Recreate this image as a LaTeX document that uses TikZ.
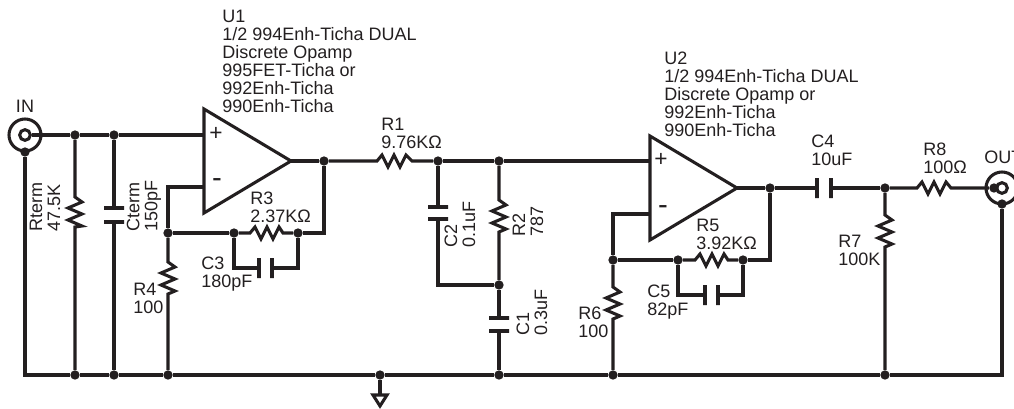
\documentclass[tikz,border=0pt]{standalone}
\usepackage{fontspec}
\setmainfont{Liberation Sans}
\usepackage{tikz}
\usetikzlibrary{positioning}
\definecolor{ink}{RGB}{35,31,32}
\tikzstyle{wire} = [draw=ink, line width=2.3pt, line join=miter]
\tikzstyle{dot} = [circle, fill=ink, minimum size=7pt, inner sep=0pt]
\tikzstyle{vplate} = [rectangle, draw=ink, fill=ink, line width=2.3pt, minimum width=0pt, minimum height=15pt, inner sep=0pt]
\tikzstyle{hplate} = [rectangle, draw=ink, fill=ink, line width=2.3pt, minimum height=0pt, minimum width=15pt, inner sep=0pt]
\tikzstyle{lbl} = [text=ink, font=\fontsize{13.5}{13.5}\selectfont, align=left, inner sep=0pt, anchor=west]
\tikzstyle{vlbl} = [lbl, rotate=90]
\tikzstyle{plus} = [lbl, anchor=center, font=\fontsize{17}{17}\selectfont]
\tikzstyle{minus} = [lbl, anchor=center, font=\fontsize{22}{22}\selectfont]
\tikzstyle{hres} = [to path={-- ++(5,-6) -- ++(6,12) -- ++(6,-12) -- ++(6,12) -- ++(6,-12) -- (\tikztotarget)}]
\tikzstyle{vres} = [to path={-- ++(7,5) -- ++(-14,6) -- ++(14,6) -- ++(-14,6) -- ++(14,6) -- (\tikztotarget)}]

\begin{document}
\begin{tikzpicture}[x=0.75pt, y=-0.75pt]
    \useasboundingbox (0, 0) rectangle (1014, 408);

    % jacks
    \node (injack) [circle, wire, fill=white, minimum size=24pt, inner sep=0pt] at (25, 135) {};
    \node (incore) [circle, wire, fill=white, minimum size=8pt, inner sep=0pt] at (25, 135) {};
    \node (outjack) [circle, wire, fill=white, minimum size=24pt, inner sep=0pt] at (1002, 188) {};
    \node (outcore) [circle, wire, fill=white, minimum size=8pt, inner sep=0pt] at (1002, 188) {};

    % junctions
    \node (jin1) [dot] at (75, 135) {};
    \node (jin2) [dot] at (114, 135) {};
    \node (jinb) [dot] at (25, 152) {};
    \node (jfb1) [dot] at (168, 233) {};
    \node (jr3l) [dot] at (234, 233) {};
    \node (jr3r) [dot] at (298, 233) {};
    \node (jout1) [dot] at (324, 161) {};
    \node (jc2) [dot] at (438, 161) {};
    \node (jr2) [dot] at (499, 161) {};
    \node (jmid) [dot] at (499, 285) {};
    \node (jfb2) [dot] at (613, 260) {};
    \node (jr5l) [dot] at (678, 260) {};
    \node (jr5r) [dot] at (743, 260) {};
    \node (jout2) [dot] at (770, 188) {};
    \node (jc4) [dot] at (885, 188) {};
    \node (joutc) [dot] at (994, 188) {};
    \node (joutb) [dot] at (1002, 204) {};
    \node (g1) [dot] at (75, 375) {};
    \node (g2) [dot] at (114, 375) {};
    \node (g3) [dot] at (168, 375) {};
    \node (g4) [dot] at (380, 375) {};
    \node (g5) [dot] at (499, 375) {};
    \node (g6) [dot] at (613, 375) {};
    \node (g7) [dot] at (885, 375) {};
    \coordinate (gl) at (25, 375);
    \coordinate (gr) at (1002, 375);
    \coordinate (grnd) at (380, 395);

    % opamps
    \coordinate (u1a) at (204, 109);
    \coordinate (u1b) at (204, 213);
    \coordinate (u1o) at (291, 161);
    \coordinate (u1p) at (204, 135);
    \coordinate (u1m) at (204, 187);
    \coordinate (u2a) at (650, 136);
    \coordinate (u2b) at (650, 240);
    \coordinate (u2o) at (737, 188);
    \coordinate (u2p) at (650, 161);
    \coordinate (u2m) at (650, 214);
    \draw [wire] (u1a) -- (u1o) -- (u1b) -- cycle;
    \draw [wire] (u2a) -- (u2o) -- (u2b) -- cycle;
    \node (u1plus) [plus] at (216, 134) {+};
    \node (u1minus) [minus] at (217, 183) {-};
    \node (u2plus) [plus] at (661, 160) {+};
    \node (u2minus) [minus] at (663, 210) {-};

    % resistor ends
    \coordinate (rta) at (75, 197);
    \coordinate (rtb) at (75, 227);
    \coordinate (r1a) at (377, 161);
    \coordinate (r1b) at (412, 161);
    \coordinate (r2a) at (499, 200);
    \coordinate (r2b) at (499, 232);
    \coordinate (r3a) at (250, 233);
    \coordinate (r3b) at (283, 233);
    \coordinate (r4a) at (168, 262);
    \coordinate (r4b) at (168, 294);
    \coordinate (r5a) at (695, 260);
    \coordinate (r5b) at (728, 260);
    \coordinate (r6a) at (613, 287);
    \coordinate (r6b) at (613, 319);
    \coordinate (r7a) at (885, 215);
    \coordinate (r7b) at (885, 247);
    \coordinate (r8a) at (917, 188);
    \coordinate (r8b) at (951, 188);

    % capacitor plates
    \node (ctt) [hplate] at (114, 208) {};
    \node (ctb) [hplate] at (114, 222) {};
    \node (c1t) [hplate] at (499, 318) {};
    \node (c1b) [hplate] at (499, 331) {};
    \node (c2t) [hplate] at (438, 207) {};
    \node (c2b) [hplate] at (438, 219) {};
    \node (c3l) [vplate] at (259, 268) {};
    \node (c3r) [vplate] at (272, 268) {};
    \node (c4l) [vplate] at (817, 188) {};
    \node (c4r) [vplate] at (831, 188) {};
    \node (c5l) [vplate] at (705, 295) {};
    \node (c5r) [vplate] at (718, 295) {};

    % input side
    \draw [wire] (incore) -- (jin1);
    \draw [wire] (jin1) -- (jin2);
    \draw [wire] (jin2) -- (u1p);
    \draw [wire] (jinb) -- (gl) -- (g1);
    \draw [wire] (jin1) -- (rta) to[vres] (rtb) -- (g1);
    \draw [wire] (jin2) -- (ctt);
    \draw [wire] (ctb) -- (g2);
    \draw [wire] (u1m) -| (jfb1);
    \draw [wire] (jfb1) -- (r4a) to[vres] (r4b) -- (g3);
    \draw [wire] (jfb1) -- (jr3l);
    \draw [wire] (jr3l) -- (r3a) to[hres] (r3b) -- (jr3r);
    \draw [wire] (jr3r) -| (jout1);
    \draw [wire] (jr3l) |- (c3l);
    \draw [wire] (c3r) -| (jr3r);
    \draw [wire] (u1o) -- (jout1);

    % filter
    \draw [wire] (jout1) -- (r1a) to[hres] (r1b) -- (jc2);
    \draw [wire] (jc2) -- (jr2);
    \draw [wire] (jr2) -- (u2p);
    \draw [wire] (jc2) -- (c2t);
    \draw [wire] (c2b) |- (jmid);
    \draw [wire] (jr2) -- (r2a) to[vres] (r2b) -- (jmid);
    \draw [wire] (jmid) -- (c1t);
    \draw [wire] (c1b) -- (g5);

    % output side
    \draw [wire] (u2m) -| (jfb2);
    \draw [wire] (jfb2) -- (r6a) to[vres] (r6b) -- (g6);
    \draw [wire] (jfb2) -- (jr5l);
    \draw [wire] (jr5l) -- (r5a) to[hres] (r5b) -- (jr5r);
    \draw [wire] (jr5r) -| (jout2);
    \draw [wire] (jr5l) |- (c5l);
    \draw [wire] (c5r) -| (jr5r);
    \draw [wire] (u2o) -- (jout2);
    \draw [wire] (jout2) -- (c4l);
    \draw [wire] (c4r) -- (jc4);
    \draw [wire] (jc4) -- (r8a) to[hres] (r8b) -- (joutc);
    \draw [wire] (jc4) -- (r7a) to[vres] (r7b) -- (g7);
    \draw [wire] (joutb) -- (gr) -- (g7);

    % ground rail
    \draw [wire] (g1) -- (g2);
    \draw [wire] (g2) -- (g3);
    \draw [wire] (g3) -- (g4);
    \draw [wire] (g4) -- (g5);
    \draw [wire] (g5) -- (g6);
    \draw [wire] (g6) -- (g7);
    \draw [wire] (g4) -- (grnd);
    \draw [wire] (grnd) -- ++(-7, 0) -- ++(7, 11) -- ++(7, -11) -- cycle;

    % labels
    \node (lblin) [lbl, anchor=center] at (25, 106) {IN};
    \node (lblout) [lbl] at (984, 157) {OUT};
    \node (lblu1) [lbl] at (222, 61) {U1\\1/2 994Enh-Ticha DUAL\\Discrete Opamp\\995FET-Ticha or\\992Enh-Ticha\\990Enh-Ticha};
    \node (lblu2) [lbl] at (664, 94) {U2\\1/2 994Enh-Ticha DUAL\\Discrete Opamp or\\992Enh-Ticha\\990Enh-Ticha};
    \node (lblr1) [lbl] at (381, 133) {R1\\9.76KΩ};
    \node (lblr3) [lbl] at (250, 207) {R3\\2.37KΩ};
    \node (lblc3) [lbl] at (201, 274) {C3\\180pF};
    \node (lblr4) [lbl] at (133, 298) {R4\\100};
    \node (lblr5) [lbl] at (696, 234) {R5\\3.92KΩ};
    \node (lblc5) [lbl] at (647, 302) {C5\\82pF};
    \node (lblr6) [lbl] at (578, 322) {R6\\100};
    \node (lblc4) [lbl] at (811, 150) {C4\\10uF};
    \node (lblr8) [lbl] at (923, 158) {R8\\100Ω};
    \node (lblr7) [lbl] at (838, 250) {R7\\100K};
    \node (lblrt) [vlbl] at (45, 232) {Rterm\\47.5K};
    \node (lblct) [vlbl] at (144, 232) {Cterm\\150pF};
    \node (lblc2) [vlbl] at (460, 248) {C2\\0.1uF};
    \node (lblr2) [vlbl] at (528, 237) {R2\\787};
    \node (lblc1) [vlbl] at (532, 336) {C1\\0.3uF};

\end{tikzpicture}
\end{document}
